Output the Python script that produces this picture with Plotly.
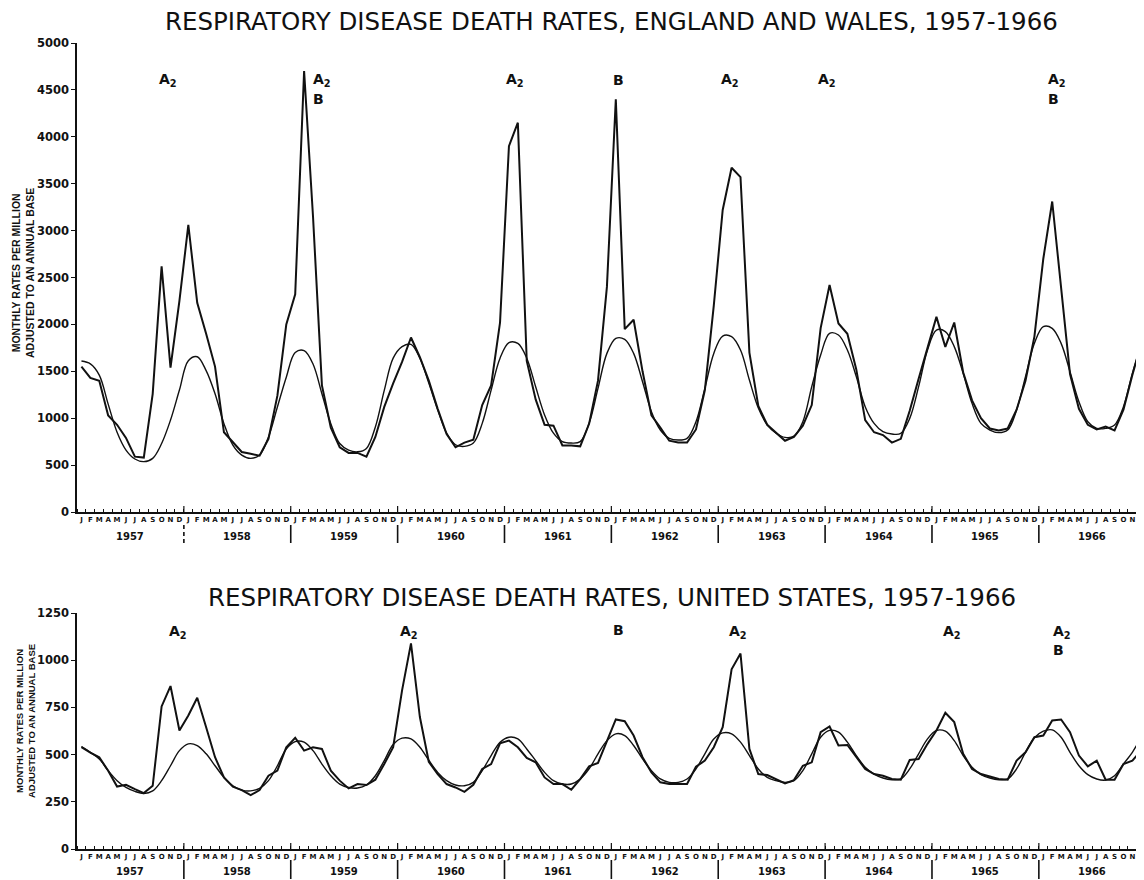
import plotly.graph_objects as go

# ---------------- data ----------------
MONTHS = ["J", "F", "M", "A", "M", "J", "J", "A", "S", "O", "N", "D"]
YEARS = [1957, 1958, 1959, 1960, 1961, 1962, 1963, 1964, 1965, 1966]

EW_TICKS = [0, 500, 1000, 1500, 2000, 2500, 3000, 3500, 4000, 4500, 5000]
US_TICKS = [0, 250, 500, 750, 1000, 1250]

# England and Wales, observed monthly rates (Jan 1957 .. Dec 1966)
EW_OBSERVED = [
    1550, 1430, 1400, 1030, 930, 790, 590, 580, 1260, 2620, 1540, 2250,
    3060, 2230, 1900, 1550, 850, 750, 640, 620, 600, 780, 1240, 2000,
    2320, 4700, 3150, 1350, 900, 690, 630, 630, 590, 800, 1120, 1370,
    1600, 1860, 1650, 1400, 1100, 830, 690, 740, 770, 1140, 1350, 2020,
    3900, 4150, 1610, 1200, 930, 920, 710, 710, 700, 940, 1400, 2400,
    4400, 1950, 2050, 1500, 1030, 900, 760, 740, 740, 880, 1300, 2200,
    3220, 3670, 3570, 1700, 1130, 930, 850, 760, 800, 920, 1140, 1960,
    2420, 2010, 1900, 1520, 980, 850, 820, 740, 780, 1080, 1420, 1760,
    2080, 1760, 2020, 1490, 1190, 1000, 890, 870, 890, 1090, 1400, 1870,
    2700, 3310, 2420, 1470, 1100, 930, 880, 910, 870, 1090, 1460, 1800,
]

# England and Wales, expected (smooth) curve
EW_EXPECTED = [
    1610, 1580, 1460, 1150, 850, 660, 565, 537, 572, 730, 980, 1300,
    1613, 1655, 1507, 1260, 942, 713, 607, 572, 607, 800, 1120, 1437,
    1700, 1720, 1578, 1260, 942, 730, 660, 642, 678, 907, 1296, 1640,
    1763, 1787, 1640, 1375, 1090, 840, 717, 700, 735, 945, 1300, 1640,
    1805, 1797, 1640, 1335, 1035, 840, 750, 735, 750, 945, 1318, 1691,
    1851, 1840, 1691, 1389, 1070, 874, 785, 767, 785, 963, 1318, 1691,
    1876, 1869, 1727, 1407, 1108, 930, 840, 795, 808, 963, 1336, 1674,
    1905, 1887, 1727, 1443, 1123, 945, 856, 831, 838, 998, 1336, 1727,
    1940, 1923, 1763, 1478, 1158, 945, 874, 846, 874, 1087, 1443, 1798,
    1976, 1958, 1798, 1496, 1176, 963, 892, 892, 927, 1123, 1478, 1780,
]

# United States, observed monthly rates
US_OBSERVED = [
    540, 510, 486, 415, 331, 340, 317, 296, 335, 755, 863, 628,
    707, 801, 645, 486, 379, 330, 312, 285, 312, 388, 415, 539,
    589, 521, 539, 530, 415, 362, 321, 344, 339, 367, 450, 539,
    840, 1089, 699, 462, 397, 344, 326, 303, 340, 424, 450, 560,
    574, 539, 482, 459, 379, 344, 344, 314, 370, 438, 456, 574,
    686, 677, 601, 486, 406, 353, 344, 344, 344, 436, 468, 539,
    645, 952, 1035, 530, 397, 392, 371, 347, 365, 441, 459, 619,
    649, 548, 551, 486, 424, 397, 388, 371, 367, 472, 477, 557,
    628, 722, 672, 504, 424, 397, 383, 371, 367, 468, 512, 592,
    601, 681, 686, 619, 495, 438, 468, 367, 367, 450, 468, 521,
]

# United States, expected (smooth) curve
US_EXPECTED = [
    543, 512, 477, 415, 362, 326, 305, 294, 308, 362, 441, 521,
    557, 548, 504, 441, 379, 335, 312, 308, 321, 362, 441, 530,
    569, 566, 521, 450, 388, 344, 326, 323, 339, 388, 468, 553,
    587, 583, 539, 470, 406, 362, 339, 335, 353, 415, 495, 566,
    592, 583, 530, 468, 406, 362, 344, 344, 370, 424, 504, 574,
    610, 601, 548, 477, 415, 371, 353, 353, 371, 424, 504, 583,
    615, 610, 566, 495, 424, 379, 362, 353, 362, 415, 504, 592,
    628, 619, 566, 495, 433, 397, 376, 367, 371, 424, 504, 583,
    628, 624, 574, 495, 433, 394, 376, 367, 371, 424, 512, 589,
    624, 631, 592, 512, 441, 394, 371, 365, 388, 450, 512, 592,
]

# epidemic labels (virus types)
EW_LABELS = ["A<sub>2</sub>", "A<sub>2</sub>", "B", "A<sub>2</sub>", "B",
             "A<sub>2</sub>", "A<sub>2</sub>", "A<sub>2</sub>", "B"]
US_LABELS = ["A<sub>2</sub>", "A<sub>2</sub>", "B", "A<sub>2</sub>",
             "A<sub>2</sub>", "A<sub>2</sub>", "B"]

TITLE_EW = "RESPIRATORY DISEASE DEATH RATES, ENGLAND AND WALES, 1957-1966"
TITLE_US = "RESPIRATORY DISEASE DEATH RATES, UNITED STATES, 1957-1966"
YTITLE = "MONTHLY RATES PER MILLION<br>ADJUSTED TO AN ANNUAL BASE"

# ---------------- layout helpers ----------------
W, H = 1144, 880
INK = "#111111"
FONT = "Liberation Sans"
NUMFONT = "DejaVu Sans"

# the page body has an 8px margin; compensate so the photographed
# picture lands on the reference's pixel positions
SX, SY = 8.0, 8.0


def px(x):
    return (x - SX) / W


def py(y):
    return 1 - (y - SY) / H


n = len(MONTHS) * len(YEARS)
xm = [i + 0.5 for i in range(n)]
month_text = MONTHS * len(YEARS)

fig = go.Figure()

for xa, ya, obs, exp in (("x", "y", EW_OBSERVED, EW_EXPECTED),
                         ("x2", "y2", US_OBSERVED, US_EXPECTED)):
    fig.add_trace(go.Scatter(
        x=xm, y=exp, mode="lines", xaxis=xa, yaxis=ya, showlegend=False,
        line=dict(color=INK, width=1.4, shape="spline", smoothing=1.0),
        hoverinfo="skip"))
    fig.add_trace(go.Scatter(
        x=xm, y=obs, mode="lines", xaxis=xa, yaxis=ya, showlegend=False,
        line=dict(color=INK, width=2.0)))

X0, XSCALE = 77.0, 8.906
xdomain = [px(X0), px(X0 + XSCALE * n)]
top_dom = [py(512), py(43)]
bot_dom = [py(849), py(613)]


def xaxis_cfg(anchor):
    return dict(
        domain=xdomain, anchor=anchor, range=[0, n], showgrid=False,
        zeroline=False, showline=True, linecolor=INK, linewidth=1.6,
        tickmode="array", tickvals=xm, ticktext=month_text, ticks="",
        tickfont=dict(family=NUMFONT, size=7, color=INK, weight="bold"),
        minor=dict(tickmode="array", tickvals=list(range(n + 1)),
                   ticks="inside", ticklen=3, tickwidth=1, tickcolor=INK),
        automargin=False, fixedrange=True)


def yaxis_cfg(anchor, dom, ticks):
    return dict(
        domain=dom, anchor=anchor, range=[ticks[0], ticks[-1]],
        showgrid=False, zeroline=False, showline=True, linecolor=INK,
        linewidth=1.6, tickmode="array", tickvals=ticks,
        ticktext=[str(t) for t in ticks], ticks="outside", ticklen=4,
        tickwidth=1.2, tickcolor=INK,
        tickfont=dict(family=NUMFONT, size=11.5, color=INK, weight="bold"),
        automargin=False, fixedrange=True)


annotations = []
shapes = []

# titles
annotations.append(dict(text=TITLE_EW, x=px(611), y=py(22), xref="paper",
                        yref="paper", showarrow=False, xanchor="center",
                        yanchor="middle",
                        font=dict(family=NUMFONT, size=24.5, color=INK)))
annotations.append(dict(text=TITLE_US, x=px(612), y=py(597), xref="paper",
                        yref="paper", showarrow=False, xanchor="center",
                        yanchor="middle",
                        font=dict(family=NUMFONT, size=24.5, color=INK)))

# y axis titles
annotations.append(dict(text=YTITLE, x=px(23), y=py(273), xref="paper",
                        yref="paper", showarrow=False, textangle=-90,
                        xanchor="center", yanchor="middle",
                        font=dict(family=FONT, size=10.5, color=INK,
                                  weight="bold")))
annotations.append(dict(text=YTITLE, x=px(25), y=py(721), xref="paper",
                        yref="paper", showarrow=False, textangle=-90,
                        xanchor="center", yanchor="middle",
                        font=dict(family=FONT, size=9.5, color=INK,
                                  weight="bold")))

# year labels, separators and year ticks
for xa, ylab, sep0, sep1, axis_y, dashed_first in (
        ("x", 536, 525, 543, 512, True), ("x2", 871, 860, 879, 849, False)):
    for i, yr in enumerate(YEARS):
        annotations.append(dict(
            text=str(yr), x=i * 12 + 6, y=py(ylab), xref=xa, yref="paper",
            showarrow=False, xanchor="center", yanchor="middle",
            font=dict(family=NUMFONT, size=10, color=INK, weight="bold")))
    for k in range(1, len(YEARS)):
        shapes.append(dict(
            type="line", xref=xa, yref="paper", x0=12 * k, x1=12 * k,
            y0=py(sep0), y1=py(sep1),
            line=dict(color=INK, width=1.6,
                      dash="4px,3px" if (dashed_first and k == 1)
                      else "solid")))
        shapes.append(dict(
            type="line", xref=xa, yref="paper", x0=12 * k, x1=12 * k,
            y0=py(axis_y), y1=py(axis_y - 6),
            line=dict(color=INK, width=1.2)))

# epidemic labels (left edge in month units, height in data units)
EW_LABEL_POS = [(9.06, 4606), (26.38, 4606), (26.38, 4403), (48.05, 4606),
                (60.07, 4606), (72.2, 4606), (83.1, 4606), (108.9, 4606),
                (108.9, 4403)]
US_LABEL_POS = [(10.2, 1149), (36.2, 1149), (60.07, 1160), (73.1, 1149),
                (97.1, 1149), (109.5, 1149), (109.5, 1054)]
for (xa, ya), labels, pos in ((("x", "y"), EW_LABELS, EW_LABEL_POS),
                              (("x2", "y2"), US_LABELS, US_LABEL_POS)):
    for lab, (mx, vy) in zip(labels, pos):
        annotations.append(dict(
            text=lab, x=mx, y=vy, xref=xa, yref=ya, showarrow=False,
            xanchor="left", yanchor="middle", borderpad=0,
            font=dict(family=NUMFONT, size=14, color=INK, weight="bold")))

fig.update_layout(
    width=W, height=H, margin=dict(l=0, r=0, t=0, b=0, autoexpand=False),
    paper_bgcolor="white", plot_bgcolor="white", showlegend=False,
    xaxis=xaxis_cfg("y"), yaxis=yaxis_cfg("x", top_dom, EW_TICKS),
    xaxis2=xaxis_cfg("y2"), yaxis2=yaxis_cfg("x2", bot_dom, US_TICKS),
    annotations=annotations, shapes=shapes,
)

fig.write_html("out.html")
